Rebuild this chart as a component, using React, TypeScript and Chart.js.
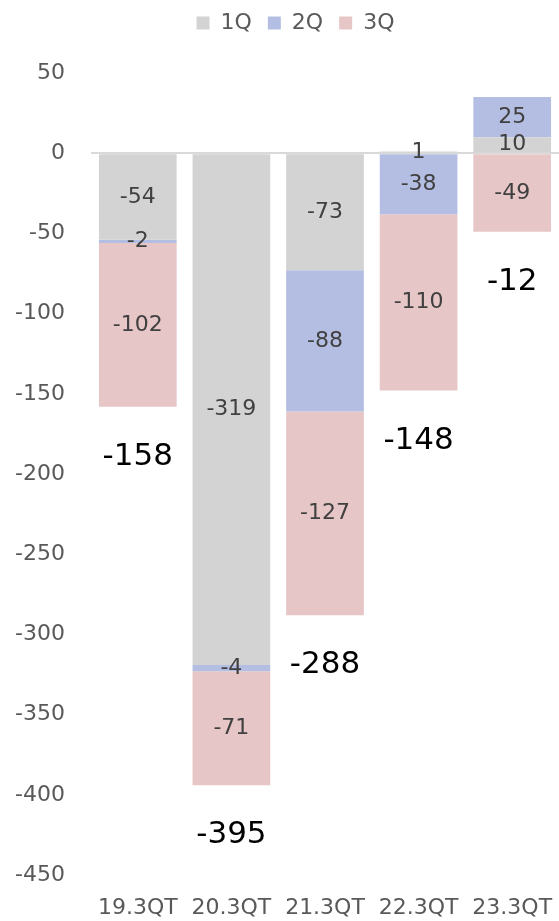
import React, { useEffect, useRef } from "react";
import { Chart, registerables } from "chart.js";

Chart.register(...registerables);

const categories = ["19.3QT", "20.3QT", "21.3QT", "22.3QT", "23.3QT"];
const q1Values = [-54, -319, -73, 1, 10];
const q2Values = [-2, -4, -88, -38, 25];
const q3Values = [-102, -71, -127, -110, -49];
const totalLabels = ["-158", "-395", "-288", "-148", "-12"];
const seriesNames = ["1Q", "2Q", "3Q"];
const yMin = -450;
const yMax = 50;
const yStep = 50;

const FONT = "'DejaVu Sans', Verdana, sans-serif";

const labelsPlugin = {
  id: "segLabels",
  afterLayout(chart: any) {
    const lg = chart.legend;
    if (lg) {
      lg.left += 10;
      lg.right += 10;
      lg.top -= 29;
      lg.bottom -= 29;
    }
  },
  afterDatasetsDraw(chart: any) {
    const ctx = chart.ctx;
    const yScale = chart.scales.y;
    ctx.save();
    ctx.textAlign = "center";
    ctx.textBaseline = "middle";
    ctx.font = `22px ${FONT}`;
    ctx.fillStyle = "#404040";
    chart.data.datasets.forEach((ds: any, di: number) => {
      const meta = chart.getDatasetMeta(di);
      meta.data.forEach((bar: any, i: number) => {
        const v = ds.data[i];
        const props = bar.getProps(["x", "y", "base"], true);
        const cy = (props.y + props.base) / 2;
        ctx.fillText(String(v), props.x, cy);
      });
    });
    // totals below the bottom of each bar
    ctx.font = `31px ${FONT}`;
    ctx.fillStyle = "#000000";
    categories.forEach((_, i) => {
      let neg = 0;
      chart.data.datasets.forEach((ds: any) => {
        const v = ds.data[i];
        if (v < 0) neg += v;
      });
      const meta = chart.getDatasetMeta(0);
      const x = meta.data[i].x;
      const yb = yScale.getPixelForValue(neg);
      ctx.fillText(totalLabels[i], x, yb + 50);
    });
    ctx.restore();
  },
};

export default function App() {
  const canvasRef = useRef<HTMLCanvasElement | null>(null);

  useEffect(() => {
    if (!canvasRef.current) return;
    Chart.defaults.font.family = FONT;
    const chart = new Chart(canvasRef.current, {
      type: "bar",
      data: {
        labels: categories,
        datasets: [
          { label: seriesNames[0], data: q1Values, backgroundColor: "#d3d3d3" },
          { label: seriesNames[1], data: q2Values, backgroundColor: "#b4bee2" },
          { label: seriesNames[2], data: q3Values, backgroundColor: "#e7c6c7" },
        ],
      },
      options: {
        animation: false,
        responsive: false,
        maintainAspectRatio: false,
        layout: { autoPadding: false, padding: { left: 12, right: 0, top: 25, bottom: 0 } },
        datasets: {
          bar: { barPercentage: 0.83, categoryPercentage: 1, borderWidth: 0 },
        },
        plugins: {
          legend: {
            position: "top",
            labels: {
              boxWidth: 13,
              boxHeight: 13,
              padding: 16,
              color: "#595959",
              font: { size: 22, family: FONT },
            },
          },
          tooltip: { enabled: false },
        },
        scales: {
          x: {
            stacked: true,
            grid: { display: false, drawTicks: false },
            border: { display: false },
            afterFit: (scale: any) => {
              scale.height = 46;
              scale.paddingLeft = 0;
              scale.paddingRight = 0;
            },
            ticks: {
              color: "#595959",
              font: { size: 22, family: FONT },
              padding: 20,
              maxRotation: 0,
              autoSkip: false,
            },
          },
          y: {
            stacked: true,
            min: yMin,
            max: yMax,
            afterFit: (scale: any) => {
              scale.width = 79;
              scale.paddingTop = 0;
              scale.paddingBottom = 0;
            },
            grid: {
              drawTicks: false,
              lineWidth: 2,
              color: (c: any) => (c.tick && c.tick.value === 0 ? "#d9d9d9" : "rgba(0,0,0,0)"),
            },
            border: { display: false },
            ticks: {
              stepSize: yStep,
              color: "#595959",
              font: { size: 22, family: FONT },
              padding: 26,
            },
          },
        },
      },
      plugins: [labelsPlugin],
    });
    return () => chart.destroy();
  }, []);

  return (
    <div style={{ position: "absolute", left: 0, top: 0, width: 559, height: 921 }}>
      <canvas ref={canvasRef} width={559} height={921} style={{ display: "block" }} />
    </div>
  );
}
